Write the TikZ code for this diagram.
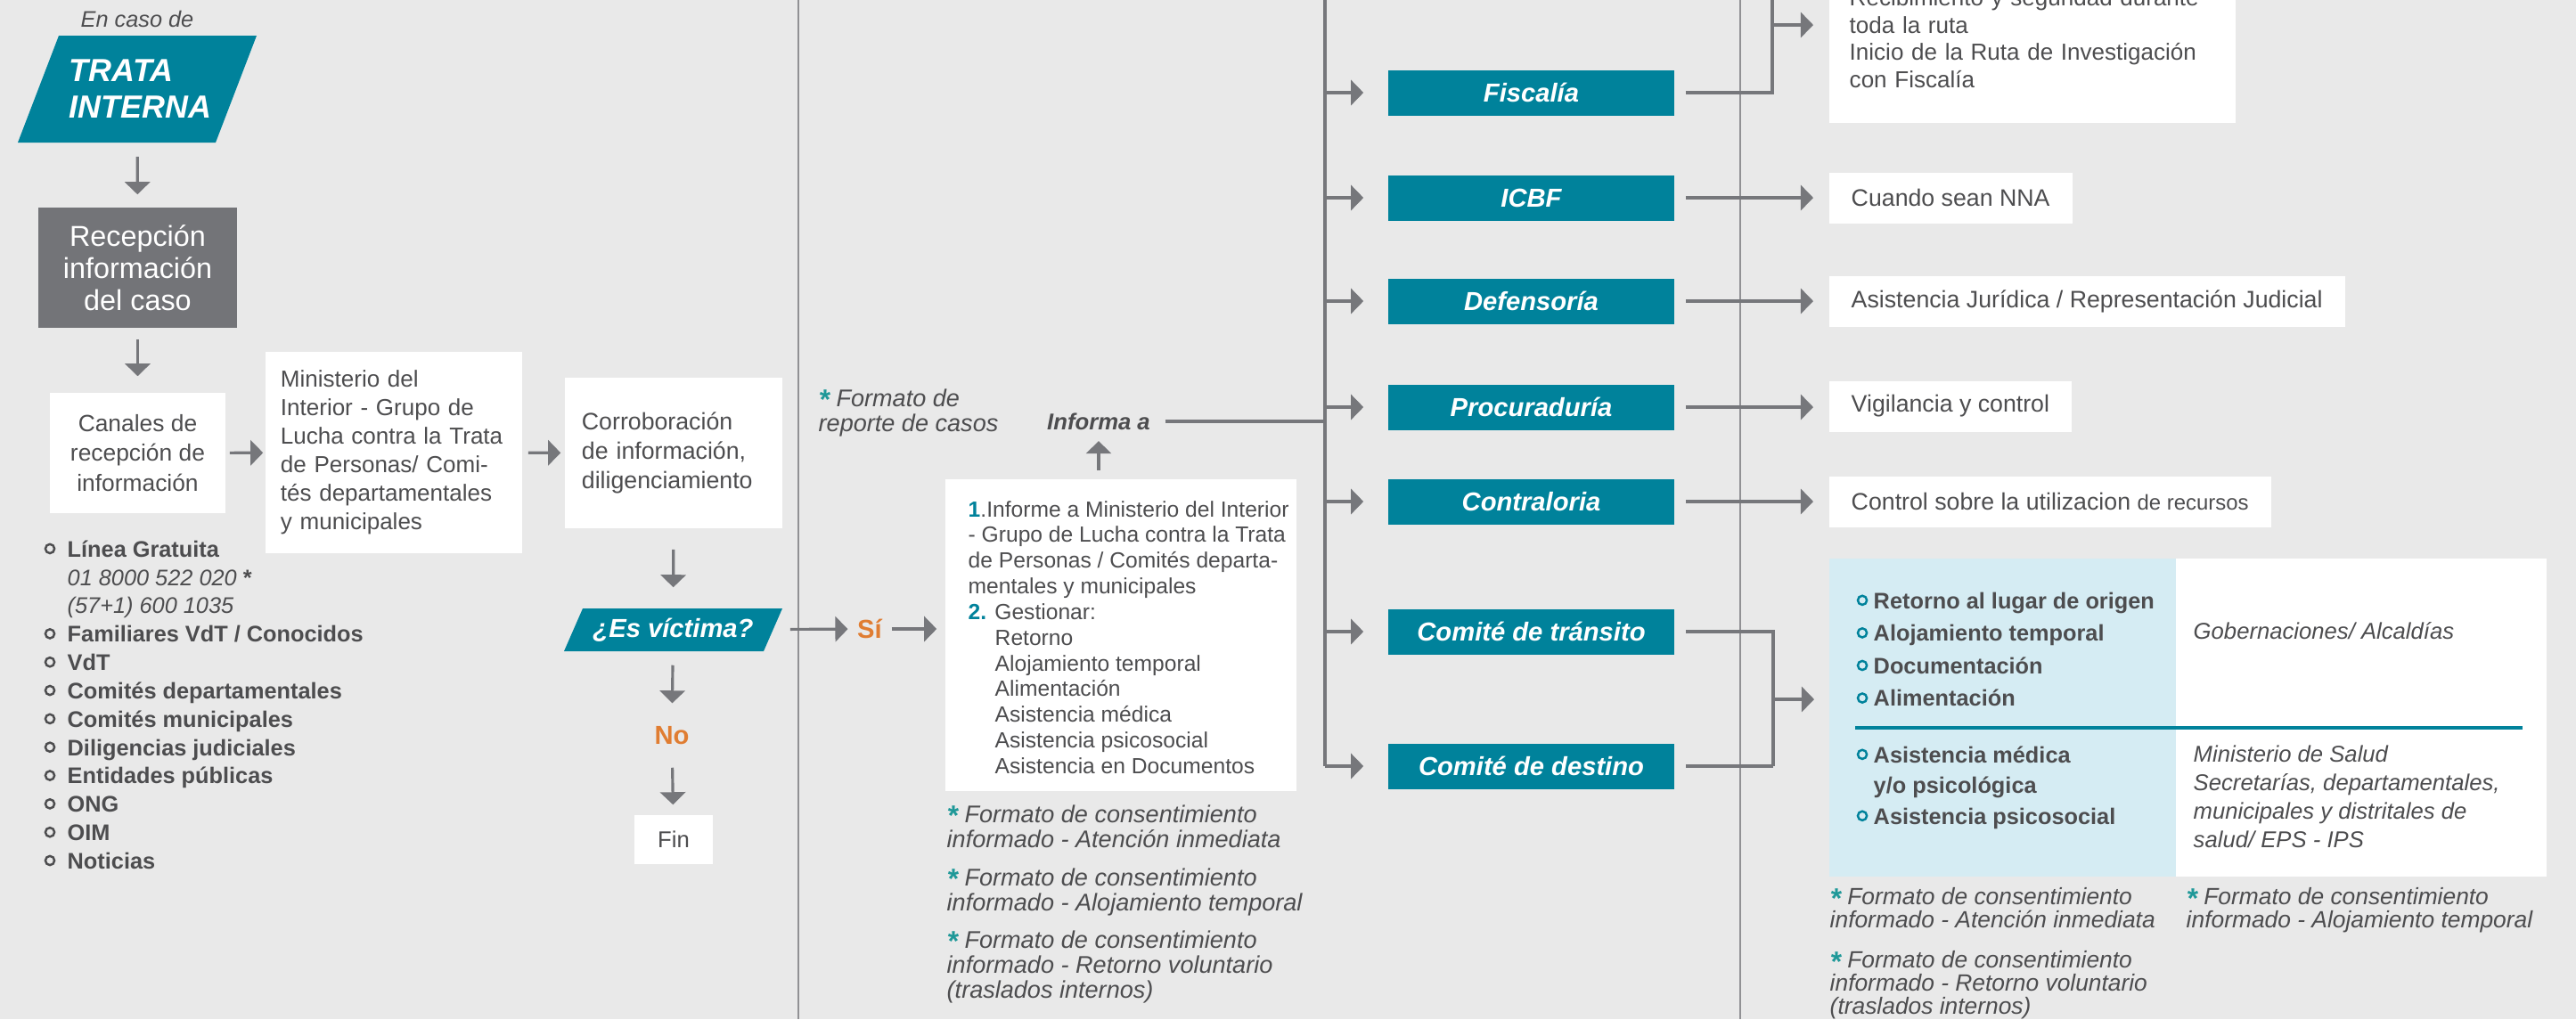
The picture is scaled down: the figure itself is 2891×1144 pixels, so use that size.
\documentclass[tikz,border=0pt]{standalone}
\usepackage{fontspec}
\setmainfont{Liberation Sans}
\usepackage{tikz}
\usetikzlibrary{
    positioning,
    arrows.meta,
    calc
}
\definecolor{bgGray}{RGB}{233,233,233}
\definecolor{rutaTeal}{RGB}{0,130,155}
\definecolor{boxGray}{RGB}{115,116,120}
\definecolor{txtGray}{RGB}{77,77,79}
\definecolor{lineGray}{RGB}{118,119,123}
\definecolor{sepGray}{RGB}{145,145,148}
\definecolor{siOrange}{RGB}{224,125,50}
\definecolor{starTeal}{RGB}{30,152,152}
\definecolor{paleBlue}{RGB}{213,236,243}

\newcommand{\estr}{{\color{starTeal}\bfseries\fontsize{9}{8}\selectfont\raisebox{-0.2ex}{*}}}
\newcommand{\bul}[2][0.19cm]{\makebox[#1][l]{\tikz[baseline=-0.7ex]\draw[#2, line width=0.7pt] (0,0) circle (1.45pt);}}

\tikzset{
    arr/.style={lineGray, line width=0.9pt, -{Triangle[length=4pt, width=8pt]}},
    conn/.style={lineGray, line width=0.9pt},
    sepline/.style={sepGray, line width=0.45pt},
    txt/.style={text=txtGray, inner sep=0pt},
    whitebox/.style={fill=white, text=txtGray, inner sep=0pt, font=\fontsize{7.5}{9.4}\selectfont},
    tealbox/.style={fill=rutaTeal, text=white, inner sep=0pt, minimum width=3.21cm, minimum height=0.51cm, font=\fontsize{8.3}{10}\selectfont\bfseries\itshape},
    rbox/.style={fill=white, text=txtGray, anchor=west, inner xsep=0.25cm, inner ysep=0pt, minimum height=0.57cm, font=\fontsize{7.6}{8.8}\selectfont},
    nota/.style={text=txtGray, inner sep=0pt, align=left, anchor=north west, font=\fontsize{7.7}{8}\selectfont\itshape},
    decision/.style={text=white, inner sep=0pt, font=\fontsize{8.3}{10}\selectfont\bfseries\itshape},
    resp/.style={text=siOrange, inner sep=0pt, font=\fontsize{8.3}{10}\selectfont\bfseries}
}

\begin{document}
\begin{tikzpicture}[x=0.01cm, y=-0.01cm]
    \useasboundingbox (0,0) rectangle (2891,1144);
    \clip (0,0) rectangle (2891,1144);
    \fill[bgGray] (0,0) rectangle (2891,1144);

    % column separators
    \draw[sepline] (896,0) -- (896,1144);
    \draw[sepline] (1953,0) -- (1953,1144);

    % reception of the case
    \node[txt, font=\fontsize{7.2}{8}\selectfont\itshape] (encaso) at (154,21) {En caso de};
    \fill[rutaTeal] (66,40) -- (288,40) -- (242,160) -- (20,160) -- cycle;
    \node[txt, text=white, text width=1.52cm, minimum height=1.2cm, align=left, font=\fontsize{10.2}{11.7}\selectfont\bfseries\itshape] (trata) at (154,100) {TRATA\\INTERNA};
    \node[fill=boxGray, text=white, inner sep=0pt, minimum width=2.23cm, minimum height=1.35cm, align=center, font=\fontsize{9.2}{10.3}\selectfont] (recep) at (154.5,300.5) {Recepción\\información\\del caso};
    \node[whitebox, minimum width=1.97cm, minimum height=1.35cm, align=center] (canales) at (154.5,508.5) {Canales de\\recepción de\\información};
    \node[whitebox, minimum width=2.88cm, minimum height=2.26cm, text width=2.54cm, align=left, font=\fontsize{7.4}{9.1}\selectfont] (minint) at (442,508) {Ministerio del\\Interior - Grupo de\\Lucha contra la Trata\\de Personas/ Comi-\\tés departamentales\\y municipales};
    \node[whitebox, minimum width=2.44cm, minimum height=1.69cm, text width=2.06cm, align=left, font=\fontsize{7.6}{9.3}\selectfont] (corrob) at (756,508.5) {Corroboración\\de información,\\diligenciamiento};

    \node[txt, anchor=north west, align=left, font=\fontsize{7.2}{9.05}\selectfont\bfseries] (canList) at (49,606) {\bul[0.26cm]{txtGray}Línea Gratuita\\
        \hspace*{0.26cm}{\mdseries\itshape 01 8000 522 020} *\\
        \hspace*{0.26cm}{\mdseries\itshape (57+1) 600 1035}\\
        \bul[0.26cm]{txtGray}Familiares VdT / Conocidos\\
        \bul[0.26cm]{txtGray}VdT\\
        \bul[0.26cm]{txtGray}Comités departamentales\\
        \bul[0.26cm]{txtGray}Comités municipales\\
        \bul[0.26cm]{txtGray}Diligencias judiciales\\
        \bul[0.26cm]{txtGray}Entidades públicas\\
        \bul[0.26cm]{txtGray}ONG\\
        \bul[0.26cm]{txtGray}OIM\\
        \bul[0.26cm]{txtGray}Noticias};

    % decision
    \fill[rutaTeal] (654,683) -- (878,683) -- (857,731) -- (633,731) -- cycle;
    \node[decision, minimum width=2.45cm, minimum height=0.48cm] (esvic) at (755.5,707) {¿Es víctima?};
    \node[resp, minimum height=0.6cm] (no) at (754,826) {No};
    \node[fill=white, text=txtGray, inner sep=0pt, minimum width=0.88cm, minimum height=0.55cm, font=\fontsize{7.3}{9}\selectfont] (fin) at (756,942.5) {Fin};
    \node[resp] (si) at (976,706) {Sí};

    \draw[arr, shorten <=0.15cm, shorten >=0.14cm] (trata) -- (recep);
    \draw[arr, shorten <=0.12cm, shorten >=0.18cm] (recep) -- (canales);
    \draw[arr, shorten <=0.04cm, shorten >=0.02cm] (canales) -- (minint);
    \draw[arr, shorten <=0.06cm, shorten >=0.04cm] (minint) -- (corrob);
    \draw[arr, shorten <=0.23cm, shorten >=0.23cm] (corrob) -- (esvic);
    \draw[arr, shorten <=0.15cm, shorten >=0.06cm] (esvic) -- (no);
    \draw[arr, shorten <=0.05cm, shorten >=0.11cm] (no) -- (fin);
    \draw[arr, shorten <=0.08cm, shorten >=0.10cm] (esvic) -- (si);

    % attention
    \node[fill=white, minimum width=3.94cm, minimum height=3.5cm, inner sep=0pt] (informe) at (1258,713) {};
    \node[txt, anchor=west, align=left, font=\fontsize{7}{8.2}\selectfont] (informeTxt) at (1086,715.5) {{\color{rutaTeal}\bfseries 1}.Informe a Ministerio del Interior\\
        - Grupo de Lucha contra la Trata\\
        de Personas / Comités departa-\\
        mentales y municipales\\
        {\color{rutaTeal}\bfseries 2.} Gestionar:\\
        \hspace*{0.3cm}Retorno\\
        \hspace*{0.3cm}Alojamiento temporal\\
        \hspace*{0.3cm}Alimentación\\
        \hspace*{0.3cm}Asistencia médica\\
        \hspace*{0.3cm}Asistencia psicosocial\\
        \hspace*{0.3cm}Asistencia en Documentos};
    \draw[arr, shorten <=0.10cm, shorten >=0.09cm] (si) -- (si -| informe.west);

    \node[txt, font=\fontsize{7.3}{9}\selectfont\bfseries\itshape] (informa) at (1233,473) {Informa a};
    \draw[arr, shorten <=0.09cm, shorten >=0.12cm] (informa.south |- informe.north) -- (informa.south);
    \node[nota] (formRep) at (918,436) {\estr\ Formato de\\reporte de casos};

    \node[nota] (nota1) at (1062,903) {\estr\ Formato de consentimiento\\informado - Atención inmediata};
    \node[nota] (nota2) at (1062,974) {\estr\ Formato de consentimiento\\informado - Alojamiento temporal};
    \node[nota] (nota3) at (1062,1044) {\estr\ Formato de consentimiento\\informado - Retorno voluntario\\(traslados internos)};

    % institutions
    \coordinate (trk) at (1487,0);
    \foreach \nm/\txt/\yy in {fisc/Fiscalía/104, icbf/ICBF/222, def/Defensoría/338, proc/Procuraduría/457, cont/Contraloria/563, trans/Comité de tránsito/709, dest/Comité de destino/860}{
        \node[tealbox] (\nm) at (1718.5,\yy) {\txt};
        \draw[arr, shorten >=0.27cm] (trk |- \nm.west) -- (\nm.west);
    }
    \draw[conn] ([yshift=0.2cm]trk) -- (trk |- dest.west);
    \draw[conn, shorten <=0.16cm] (informa.east) -- (informa.east -| trk);

    \node[rbox, anchor=south west, text width=4.1cm, inner xsep=0.23cm, minimum height=1.9cm, align=left, font=\fontsize{7.4}{8.7}\selectfont] (fiscTxt) at (2052,139) {Recibimiento y seguridad durante\\toda la ruta\\Inicio de la Ruta de Investigación\\con Fiscalía};
    \node[rbox] (icbfTxt) at (2052,222) {Cuando sean NNA};
    \node[rbox] (defTxt) at (2052,338) {Asistencia Jurídica / Representación Judicial};
    \node[rbox] (procTxt) at (2052,456) {Vigilancia y control};
    \node[rbox] (contTxt) at (2052,563) {Control sobre la utilizacion {\fontsize{6.8}{8}\selectfont de recursos}};

    \coordinate (fiscBr) at (1989,28);
    \draw[conn, shorten <=0.12cm] (fisc.east) -- (fisc.east -| fiscBr) -- ([yshift=0.5cm]fiscBr);
    \draw[arr, shorten >=0.17cm] (fiscBr) -- (fiscBr -| fiscTxt.west);
    \foreach \src/\dst in {icbf/icbfTxt, def/defTxt, proc/procTxt, cont/contTxt}
        \draw[arr, shorten <=0.12cm, shorten >=0.17cm] (\src.east) -- (\src.east -| \dst.west);

    % committees
    \node[fill=paleBlue, inner sep=0pt, anchor=north west, minimum width=3.89cm, minimum height=3.57cm] (serv) at (2052,626) {};
    \node[fill=white, inner sep=0pt, anchor=north west, minimum width=4.16cm, minimum height=3.57cm] (entid) at (2441,626) {};
    \draw[rutaTeal, line width=0.9pt] (2082,817) -- (2831,817);

    \node[txt, anchor=west, align=left, font=\fontsize{7.2}{10.4}\selectfont\bfseries] (servA) at (2083,729) {\bul{rutaTeal}Retorno al lugar de origen\\\bul{rutaTeal}Alojamiento temporal\\\bul{rutaTeal}Documentación\\\bul{rutaTeal}Alimentación};
    \node[txt, anchor=west, align=left, font=\fontsize{7.2}{9.8}\selectfont\bfseries] (servB) at (2083,884) {\bul{rutaTeal}Asistencia médica\\\hspace*{0.19cm}y/o psicológica\\\bul{rutaTeal}Asistencia psicosocial};
    \node[txt, anchor=west, font=\fontsize{7.3}{9}\selectfont\itshape] (entidA) at (2461,708) {Gobernaciones/ Alcaldías};
    \node[txt, anchor=west, align=left, font=\fontsize{7.3}{9.1}\selectfont\itshape] (entidB) at (2461,894.5) {Ministerio de Salud\\Secretarías, departamentales,\\municipales y distritales de\\salud/ EPS - IPS};

    \coordinate (comBr) at (1990,785);
    \draw[conn, shorten <=0.12cm] (trans.east) -- (trans.east -| comBr) -- (dest.east -| comBr);
    \draw[conn, shorten <=0.12cm] (dest.east) -- (dest.east -| comBr);
    \draw[arr, shorten >=0.16cm] (comBr) -- (comBr -| serv.west);

    \node[nota, font=\fontsize{7.5}{7.4}\selectfont\itshape] (nota4) at (2053,996) {\estr\ Formato de consentimiento\\informado - Atención inmediata};
    \node[nota, font=\fontsize{7.5}{7.4}\selectfont\itshape] (nota5) at (2453,996) {\estr\ Formato de consentimiento\\informado - Alojamiento temporal};
    \node[nota, font=\fontsize{7.5}{7.4}\selectfont\itshape] (nota6) at (2053,1067) {\estr\ Formato de consentimiento\\informado - Retorno voluntario\\(traslados internos)};
\end{tikzpicture}
\end{document}
